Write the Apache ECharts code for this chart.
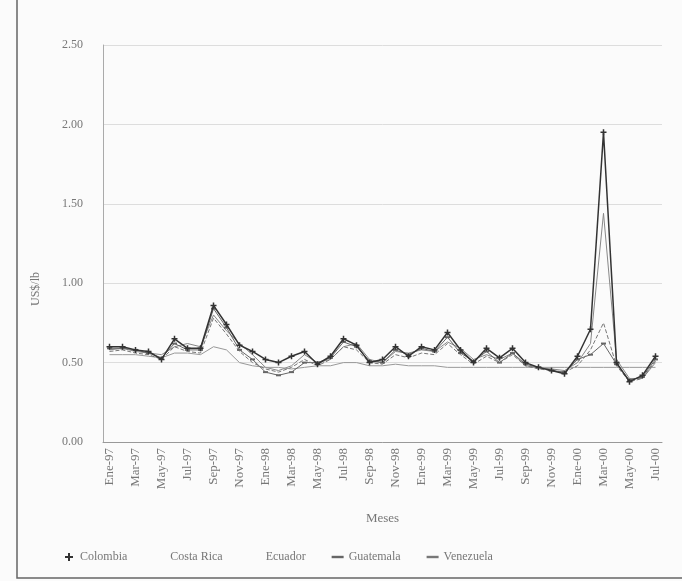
<!DOCTYPE html>
<html>
<head>
<meta charset="utf-8">
<script src="https://cdn.jsdelivr.net/npm/echarts@6/dist/echarts.min.js"></script>
<style>
  html, body { margin: 0; padding: 0; background: #fbfbfb; }
  #chart { width: 682px; height: 581px; }
</style>
</head>
<body>
<div id="chart"></div>
<script>
// meses (Ene-97 .. Jul-00)
var meses = [
  'Ene-97','Feb-97','Mar-97','Abr-97','May-97','Jun-97','Jul-97','Ago-97','Sep-97','Oct-97','Nov-97','Dic-97',
  'Ene-98','Feb-98','Mar-98','Abr-98','May-98','Jun-98','Jul-98','Ago-98','Sep-98','Oct-98','Nov-98','Dic-98',
  'Ene-99','Feb-99','Mar-99','Abr-99','May-99','Jun-99','Jul-99','Ago-99','Sep-99','Oct-99','Nov-99','Dic-99',
  'Ene-00','Feb-00','Mar-00','Abr-00','May-00','Jun-00','Jul-00'
];

var colombia = [0.60,0.60,0.58,0.57,0.52,0.65,0.59,0.59,0.86,0.74,0.61,0.57,
  0.52,0.50,0.54,0.57,0.49,0.54,0.65,0.61,0.50,0.52,0.60,0.54,
  0.60,0.58,0.69,0.58,0.50,0.59,0.53,0.59,0.50,0.47,0.45,0.43,
  0.54,0.71,1.95,0.50,0.38,0.42,0.54];

var costaRica = [0.58,0.59,0.57,0.56,0.55,0.60,0.62,0.60,0.80,0.70,0.62,0.55,
  0.47,0.45,0.48,0.55,0.50,0.52,0.60,0.62,0.52,0.50,0.57,0.56,
  0.58,0.57,0.63,0.59,0.52,0.55,0.52,0.56,0.48,0.47,0.46,0.45,
  0.50,0.62,1.44,0.52,0.40,0.40,0.50];

var ecuador = [0.55,0.55,0.55,0.54,0.53,0.56,0.56,0.55,0.60,0.58,0.50,0.48,
  0.47,0.47,0.46,0.47,0.48,0.48,0.50,0.50,0.48,0.48,0.49,0.48,
  0.48,0.48,0.47,0.47,0.47,0.47,0.47,0.47,0.47,0.47,0.47,0.47,
  0.47,0.47,0.47,0.47,0.47,0.47,0.47];

var guatemala = [0.59,0.59,0.58,0.56,0.53,0.62,0.58,0.58,0.84,0.72,0.58,0.52,
  0.44,0.42,0.44,0.50,0.50,0.53,0.63,0.60,0.51,0.50,0.58,0.55,
  0.59,0.57,0.66,0.56,0.51,0.57,0.50,0.56,0.49,0.47,0.45,0.44,
  0.52,0.55,0.62,0.49,0.39,0.41,0.52];

var venezuela = [0.57,0.58,0.56,0.55,0.52,0.60,0.57,0.56,0.78,0.68,0.57,0.50,
  0.46,0.44,0.47,0.52,0.48,0.52,0.60,0.58,0.50,0.49,0.55,0.53,
  0.56,0.55,0.62,0.55,0.49,0.54,0.50,0.55,0.48,0.46,0.45,0.44,
  0.48,0.58,0.75,0.48,0.38,0.40,0.51];

var serif = '"Liberation Serif", "DejaVu Serif", serif';
var plus = 'path://M3,0h2v3h3v2h-3v3h-2v-3h-3v-2h3z';
var dash = 'path://M0,0h10v2h-10z';

var chart = echarts.init(document.getElementById('chart'));
chart.setOption({
  backgroundColor: '#fbfbfb',
  animation: false,
  textStyle: { fontFamily: serif },
  grid: { left: 103, right: 20, top: 45, bottom: 139 },
  legend: {
    left: 60, top: 546,
    itemGap: 26, itemWidth: 12, itemHeight: 8,
    textStyle: { fontFamily: serif, fontSize: 12, color: '#777' },
    data: [
      { name: 'Colombia', icon: plus },
      { name: 'Costa Rica', icon: 'none' },
      { name: 'Ecuador', icon: 'none' },
      { name: 'Guatemala', icon: dash },
      { name: 'Venezuela', icon: dash }
    ]
  },
  graphic: [
    {
      type: 'rect', silent: true,
      shape: { x: 17, y: -5, width: 700, height: 583 },
      style: { fill: 'none', stroke: '#666', lineWidth: 1.5 }
    },
    {
      type: 'text', left: 30, top: 272, rotation: Math.PI / 2,
      style: { text: 'US$/lb', font: '12px ' + serif, fill: '#777' }
    }
  ],
  xAxis: {
    type: 'category',
    data: meses,
    boundaryGap: true,
    name: 'Meses',
    nameLocation: 'middle',
    nameGap: 70,
    nameTextStyle: { fontFamily: serif, fontSize: 13, color: '#777' },
    axisLine: { lineStyle: { color: '#999' } },
    axisTick: { show: false },
    axisLabel: { interval: 1, rotate: 90, margin: 6, fontSize: 13, color: '#777', fontFamily: serif }
  },
  yAxis: {
    type: 'value',
    min: 0, max: 2.5, interval: 0.5,
    axisLine: { show: true, lineStyle: { color: '#aaa' } },
    axisTick: { show: false },
    axisLabel: {
      margin: 20, fontSize: 12, color: '#777', fontFamily: serif,
      formatter: function (v) { return v.toFixed(2); }
    },
    splitLine: { lineStyle: { color: '#ddd' } }
  },
  series: [
    {
      name: 'Colombia', type: 'line', data: colombia,
      symbol: plus, symbolSize: 6, showSymbol: true,
      lineStyle: { color: '#333', width: 1.5 }, itemStyle: { color: '#333' }, z: 5
    },
    {
      name: 'Costa Rica', type: 'line', data: costaRica,
      symbol: 'none',
      lineStyle: { color: '#888', width: 1 }, itemStyle: { color: '#888' }
    },
    {
      name: 'Ecuador', type: 'line', data: ecuador,
      symbol: 'none',
      lineStyle: { color: '#999', width: 1 }, itemStyle: { color: '#999' }
    },
    {
      name: 'Guatemala', type: 'line', data: guatemala,
      symbol: 'rect', symbolSize: [5, 2],
      lineStyle: { color: '#666', width: 1 }, itemStyle: { color: '#666' }
    },
    {
      name: 'Venezuela', type: 'line', data: venezuela,
      symbol: 'none',
      lineStyle: { color: '#777', width: 1, type: 'dashed' }, itemStyle: { color: '#777' }
    }
  ]
});
</script>
</body>
</html>
